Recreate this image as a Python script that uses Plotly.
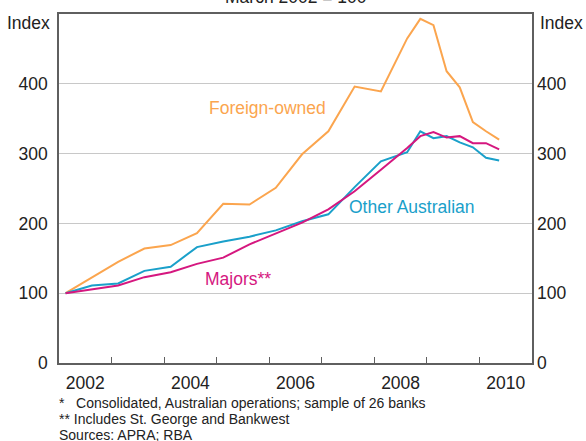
import plotly.graph_objects as go

# ---- data ----
dates = ["2002-03", "2002-09", "2003-03", "2003-09", "2004-03", "2004-09",
         "2005-03", "2005-09", "2006-03", "2006-09", "2007-03", "2007-09",
         "2008-03", "2008-09", "2008-12", "2009-03", "2009-06", "2009-09",
         "2009-12", "2010-03", "2010-06"]
foreign_owned = [100, 122, 145, 164, 169, 186, 228, 227, 251, 299, 332, 396,
                 389, 465, 493, 484, 418, 395, 345, 332, 320]
other_australian = [100, 111, 114, 132, 138, 166, 174, 181, 190, 203, 213, 252,
                    289, 302, 332, 322, 325, 316, 309, 294, 290]
majors = [100, 105, 111, 123, 130, 142, 151, 170, 185, 201, 220, 246,
          277, 308, 325, 331, 323, 325, 315, 315, 306]

year_labels = ["2002", "2004", "2006", "2008", "2010"]
y_ticks = [0, 100, 200, 300, 400]
footnotes = ["*\u00a0\u00a0 Consolidated, Australian operations; sample of 26 banks",
             "** Includes St. George and Bankwest",
             "Sources: APRA; RBA"]

# position of each observation on a fractional-year scale
def to_year(d):
    y, m = d.split("-")
    return int(y) + (int(m) - 1.5) / 12

x = [to_year(d) for d in dates]

ORANGE = "#FBA54E"
BLUE = "#1AA0CA"
MAGENTA = "#D5177F"
FONT = "Arial, Liberation Sans, sans-serif"
FS = 17.5

fig = go.Figure()
for name, vals, col, ax in [("Foreign-owned", foreign_owned, ORANGE, "y"),
                            ("Other Australian", other_australian, BLUE, "y"),
                            ("Majors**", majors, MAGENTA, "y2")]:
    fig.add_trace(go.Scatter(x=x, y=vals, mode="lines", name=name, yaxis=ax,
                             line=dict(color=col, width=2), showlegend=False))

# series labels
for txt, xx, yy, col in [("Foreign-owned", 2005.96, 365, ORANGE),
                         ("Other Australian", 2008.70, 224, BLUE),
                         ("Majors**", 2005.41, 120, MAGENTA)]:
    fig.add_annotation(x=xx, y=yy, text=txt, showarrow=False,
                       font=dict(color=col, size=FS, family=FONT))

# Index labels
fig.add_annotation(xref="paper", yref="paper", x=0, y=0.974, xanchor="right",
                   yanchor="middle", xshift=-7, text="Index", showarrow=False,
                   font=dict(size=17.5, color="#222", family=FONT))
fig.add_annotation(xref="paper", yref="paper", x=1, y=0.974, xanchor="left",
                   yanchor="middle", xshift=6, text="Index", showarrow=False,
                   font=dict(size=17.5, color="#222", family=FONT))

# clipped subtitle at very top
fig.add_annotation(xref="paper", yref="paper", x=0.5, y=1, yanchor="bottom",
                   yshift=5, text="March 2002 = 100", showarrow=False,
                   font=dict(size=FS, color="#222", family=FONT))

# footnotes
for i, t in enumerate(footnotes):
    fig.add_annotation(xref="paper", yref="paper", x=0, xanchor="left",
                       y=(363 - (403 + 16 * i)) / 349, yanchor="middle",
                       text=t, showarrow=False, xshift=-2,
                       font=dict(size=14, color="#222", family=FONT))

axis_line = dict(showline=True, linecolor="#5f5f5f", linewidth=1.6, mirror=True)

fig.update_layout(
    width=586, height=441,
    margin=dict(l=59, r=54, t=14, b=78),
    paper_bgcolor="white", plot_bgcolor="white",
    font=dict(family=FONT, size=FS, color="#222"),
    xaxis=dict(range=[2002, 2011], tickmode="array",
               tickvals=[int(v) + 0.5 for v in year_labels], ticktext=year_labels,
               ticks="", showgrid=False, zeroline=False, ticklabelstandoff=3,
               minor=dict(tickmode="array", tickvals=list(range(2003, 2011)),
                          ticks="inside", ticklen=6, tickcolor="#5f5f5f",
                          tickwidth=1.3, showgrid=False),
               **axis_line),
    yaxis=dict(range=[0, 500], tickmode="array", tickvals=y_ticks,
               showgrid=True, gridcolor="#c8c8c8", gridwidth=1, zeroline=False,
               ticks="", ticklabelstandoff=6, **axis_line),
    yaxis2=dict(range=[0, 500], tickmode="array", tickvals=y_ticks,
                overlaying="y", side="right", showgrid=False, zeroline=False,
                ticks="", showline=False, ticklabelstandoff=4),
)

fig.write_html("out.html", config={"displayModeBar": False},
               post_script="document.body.style.margin='0';")
